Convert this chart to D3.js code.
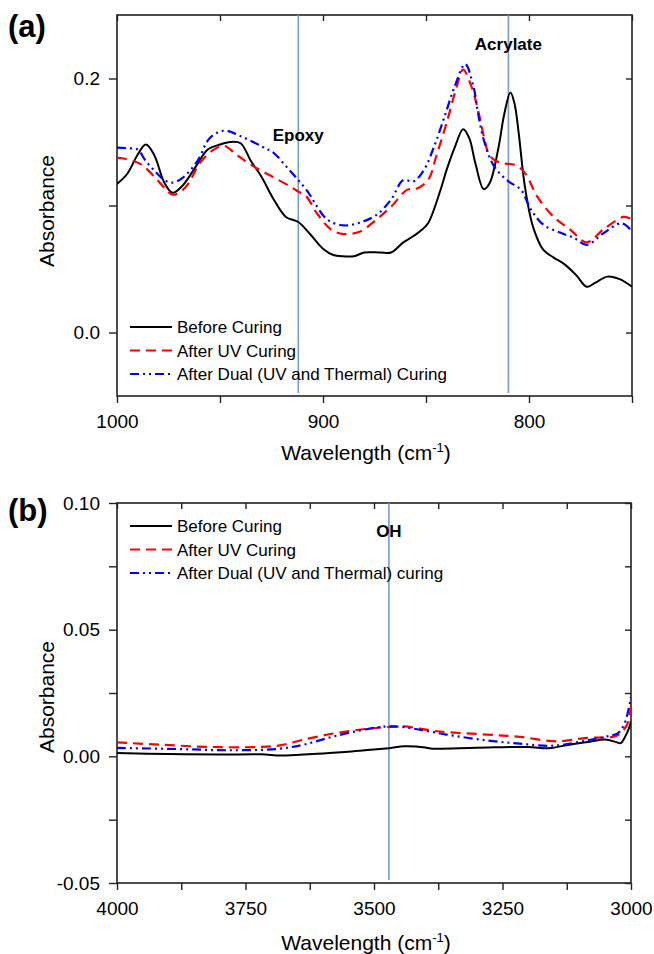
<!doctype html>
<html>
<head>
<meta charset="utf-8">
<title>FTIR spectra</title>
<script src="https://d3js.org/d3.v7.min.js"></script>
<style>
  body { margin: 0; background: #fff; }
  text { font-family: 'Liberation Sans', Arial, sans-serif; fill: #000; }
  .tick text { font-size: 19px; }
  .axis path { display: none; }
  .axis line { stroke: #222; stroke-width: 1.4; }
</style>
</head>
<body>
<svg id="chart" width="654" height="954"></svg>
<script>
// ---- data: [wavenumber, absorbance] ----
// panel (a) 1000-750 cm-1
const beforeA = [[1000,0.117],[995,0.125],[990,0.140],[986,0.148],[982,0.140],[977,0.118],[973,0.110],
  [968,0.116],[962,0.130],[956,0.144],[950,0.148],[945,0.150],[940,0.149],[935,0.135],[930,0.123],
  [924,0.105],[918,0.091],[912,0.087],[906,0.077],[900,0.066],[895,0.061],[890,0.060],[885,0.060],
  [880,0.063],[872,0.063],[867,0.063],[861,0.071],[857,0.075],[852,0.081],[849,0.086],[843,0.112],
  [840,0.128],[836,0.146],[832,0.160],[829,0.153],[826,0.133],[822,0.113],[819,0.118],[815,0.144],
  [812,0.172],[809,0.189],[807,0.180],[805,0.157],[802,0.115],[798,0.083],[793,0.065],[788,0.059],
  [783,0.054],[777,0.045],[772,0.036],[768,0.039],[762,0.044],[756,0.042],[750,0.036]];
const uvA = [[1000,0.1375],[997,0.137],[992,0.135],[988,0.132],[982,0.123],[977,0.114],[973,0.1085],
  [969,0.111],[965,0.118],[960,0.133],[953,0.144],[948,0.147],[942,0.140],[935,0.132],[926,0.124],
  [916,0.115],[911,0.110],[908,0.107],[903,0.094],[896,0.081],[890,0.0775],[882,0.0795],[874,0.089],
  [867,0.099],[859,0.1125],[855,0.113],[849,0.120],[845,0.139],[840,0.165],[835,0.194],[832,0.207],
  [828,0.194],[824,0.170],[822,0.155],[819,0.139],[814,0.1336],[807,0.132],[802,0.1257],[796,0.107],
  [788,0.091],[780,0.081],[772,0.071],[764,0.081],[754,0.091],[750,0.089]];
const dualA = [[1000,0.1455],[995,0.145],[990,0.144],[986,0.135],[981,0.126],[977,0.120],[973,0.118],
  [968,0.122],[961,0.135],[955,0.153],[948,0.159],[940,0.1546],[930,0.1467],[924,0.1415],[918,0.131],
  [912,0.120],[907,0.110],[904,0.102],[898,0.089],[890,0.0843],[882,0.0866],[874,0.0927],[867,0.1046],
  [861,0.120],[856,0.119],[851,0.128],[846,0.1467],[841,0.170],[836,0.194],[831,0.2113],[827,0.194],
  [825,0.175],[822,0.152],[817,0.131],[810,0.119],[804,0.1125],[799,0.0967],[793,0.0848],[785,0.0787],
  [778,0.0743],[772,0.069],[764,0.078],[755,0.086],[750,0.0795]];

// panel (b) 4000-3000 cm-1
const beforeB = [[4000,0.0013],[3900,0.0009],[3800,0.0007],[3720,0.0008],[3680,0.0003],[3620,0.0009],
  [3550,0.0018],[3500,0.0027],[3470,0.0032],[3440,0.0040],[3400,0.0035],[3390,0.0031],[3300,0.0034],
  [3200,0.0037],[3160,0.0032],[3120,0.0046],[3080,0.0058],[3050,0.0066],[3030,0.0057],[3020,0.0052],
  [3012,0.0075],[3004,0.011],[3000,0.014]];
const uvB = [[4000,0.0055],[3916,0.0046],[3819,0.0037],[3722,0.0037],[3683,0.0043],[3637,0.0066],
  [3573,0.0092],[3508,0.0110],[3469,0.0116],[3442,0.0118],[3378,0.0099],[3281,0.0086],[3216,0.0077],
  [3145,0.0059],[3086,0.0073],[3031,0.0079],[3014,0.0105],[3005,0.0138],[3000,0.020]];
const dualB = [[4000,0.0033],[3884,0.0029],[3786,0.0024],[3689,0.0029],[3637,0.0046],[3572,0.0082],
  [3495,0.0114],[3469,0.0118],[3442,0.0115],[3411,0.0105],[3359,0.0086],[3281,0.0063],[3216,0.0050],
  [3151,0.0042],[3086,0.0063],[3040,0.0082],[3025,0.0092],[3012,0.0132],[3000,0.0235]];

const legendA = ["Before Curing", "After UV Curing", "After Dual (UV and Thermal) Curing"];
const legendB = ["Before Curing", "After UV Curing", "After Dual (UV and Thermal) curing"];

const styles = [
  {color: "#000", dash: null, width: 2},
  {color: "#ff0000", dash: "10,6", width: 2.2},
  {color: "#0000ff", dash: "9,4,2,4,2,4", width: 2.2}
];

const svg = d3.select("#chart");

function drawPanel(opt) {
  const x = d3.scaleLinear().domain(opt.xDomain).range([117, opt.right]);
  const y = d3.scaleLinear().domain(opt.yDomain).range([opt.bottom, opt.top]);
  const g = svg.append("g");

  const clipId = "clip" + opt.id;
  g.append("clipPath").attr("id", clipId).append("rect")
    .attr("x", 117).attr("y", opt.top).attr("width", opt.right - 117).attr("height", opt.bottom - opt.top);

  // axes
  g.append("g").attr("class", "axis").attr("transform", `translate(117,0)`)
    .call(d3.axisLeft(y).tickValues(opt.yTicks).tickSize(8).tickPadding(9)
      .tickFormat(d => opt.yLabels.includes(d) ? opt.yFmt(d) : ""));
  g.append("g").attr("class", "axis").attr("transform", `translate(${opt.right},0)`)
    .call(d3.axisRight(y).tickValues(opt.yTicks).tickSize(-6).tickFormat(""));
  g.append("g").attr("class", "axis").attr("transform", `translate(0,${opt.bottom})`)
    .call(d3.axisBottom(x).tickValues(opt.xTicks).tickSize(7).tickPadding(12)
      .tickFormat(d => opt.xLabels.includes(d) ? String(d) : ""));
  g.append("g").attr("class", "axis").attr("transform", `translate(0,${opt.top})`)
    .call(d3.axisTop(x).tickValues(opt.xTicks).tickSize(-6).tickFormat(""));

  // frame
  g.append("rect").attr("x", 117).attr("y", opt.top)
    .attr("width", opt.right - 117).attr("height", opt.bottom - opt.top)
    .attr("fill", "none").attr("stroke", "#222").attr("stroke-width", 1.6);

  // marker lines
  opt.markers.forEach(m => {
    g.append("line").attr("x1", x(m.w)).attr("x2", x(m.w))
      .attr("y1", opt.top).attr("y2", opt.bottom - 3)
      .attr("stroke", "#7a9cc9").attr("stroke-width", 1.6);
    g.append("text").attr("x", x(m.w)).attr("y", m.labelY)
      .attr("text-anchor", "middle").attr("font-weight", "bold").attr("font-size", 17)
      .text(m.label);
  });

  // spectra
  const line = d3.line().x(d => x(d[0])).y(d => y(d[1])).curve(d3.curveCatmullRom.alpha(0.5));
  opt.series.forEach((s, i) => {
    g.append("path").datum(s).attr("d", line).attr("clip-path", `url(#${clipId})`)
      .attr("fill", "none").attr("stroke", styles[i].color)
      .attr("stroke-width", styles[i].width)
      .attr("stroke-dasharray", styles[i].dash);
  });

  // legend
  opt.legend.forEach((name, i) => {
    const ly = opt.legendY + i * 23.5;
    g.append("line").attr("x1", 130).attr("x2", 172).attr("y1", ly).attr("y2", ly)
      .attr("stroke", styles[i].color).attr("stroke-width", styles[i].width)
      .attr("stroke-dasharray", styles[i].dash);
    g.append("text").attr("x", 177).attr("y", ly + 6).attr("font-size", 17).text(name);
  });

  // titles
  g.append("text").attr("transform", `translate(54,${opt.yTitleY}) rotate(-90)`)
    .attr("text-anchor", "middle").attr("font-size", 21).text("Absorbance");
  const xt = g.append("text").attr("x", 366).attr("y", opt.xTitleY)
    .attr("text-anchor", "middle").attr("font-size", 21);
  xt.append("tspan").text("Wavelength (cm");
  xt.append("tspan").attr("font-size", 13).attr("dy", -8).text("-1");
  xt.append("tspan").attr("dy", 8).text(")");

  g.append("text").attr("x", 8).attr("y", opt.tagY).attr("font-size", 31)
    .attr("font-weight", "bold").text(opt.tag);
}

drawPanel({
  id: "a", tag: "(a)", tagY: 37,
  xDomain: [1000, 750], yDomain: [-0.05, 0.25],
  top: 15, bottom: 396, right: 632,
  xTicks: [1000, 950, 900, 850, 800, 750], xLabels: [1000, 900, 800],
  yTicks: [0, 0.1, 0.2], yLabels: [0, 0.2], yFmt: d3.format(".1f"),
  markers: [{w: 912, label: "Epoxy", labelY: 141}, {w: 810, label: "Acrylate", labelY: 50}],
  series: [beforeA, uvA, dualA], legend: legendA, legendY: 327,
  yTitleY: 211, xTitleY: 460
});

drawPanel({
  id: "b", tag: "(b)", tagY: 521,
  xDomain: [4000, 3000], yDomain: [-0.05, 0.10],
  top: 503, bottom: 883, right: 631,
  xTicks: [4000, 3875, 3750, 3625, 3500, 3375, 3250, 3125, 3000],
  xLabels: [4000, 3750, 3500, 3250, 3000],
  yTicks: [-0.05, -0.025, 0, 0.025, 0.05, 0.075, 0.1], yLabels: [-0.05, 0, 0.05, 0.1],
  yFmt: d => d3.format(".2f")(d).replace("−", "-"),
  markers: [{w: 3471, label: "OH", labelY: 537}],
  series: [beforeB, uvB, dualB], legend: legendB, legendY: 526,
  yTitleY: 697, xTitleY: 950
});
</script>
</body>
</html>
